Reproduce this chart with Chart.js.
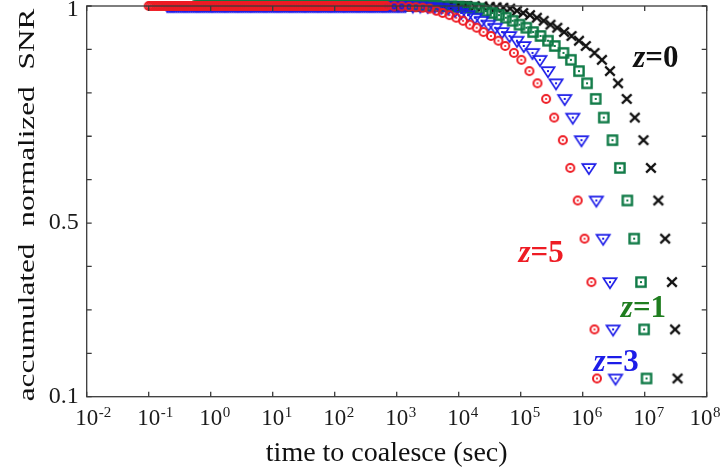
<!DOCTYPE html>
<html>
<head>
<meta charset="utf-8">
<script src="https://cdn.jsdelivr.net/npm/chart.js@4.4.1/dist/chart.umd.min.js"></script>
<style>
  html, body { margin: 0; padding: 0; background: #fff; }
</style>
</head>
<body>
<canvas id="snr-chart" width="722" height="474"></canvas>
<script>
// accumulated normalized SNR, shared by all four redshifts
const snrLevels = [
  1, 1, 1, 1, 1, 1, 1, 1, 1, 1,
  1, 1, 1, 1, 1, 1, 1, 1, 1, 1,
  1, 1, 1, 1, 1, 1, 1, 1, 1, 1,
  1, 1, 1, 1, 1, 1, 1, 1, 1, 1,
  1, 1, 1, 1, 1, 1, 1, 1, 1, 1,
  1, 1, 1, 1, 1, 1, 1, 1, 1, 1,
  1, 1, 1, 1, 1, 1, 1, 1, 1, 1,
  1, 1, 1, 1, 1, 1, 1, 1, 1, 1,
  1, 1, 1, 1, 1, 1, 1, 1, 1, 1,
  1, 1, 1, 1, 1, 1, 1, 1, 1, 1,
  1, 1, 1, 1, 1, 1, 1, 1, 1, 1,
  1, 1, 1, 1, 1, 1, 1, 1, 1, 1,
  1, 1, 1, 1, 1, 1, 1, 1, 1,
  0.999, 0.999, 0.998, 0.997, 0.996,
  0.994, 0.989, 0.984, 0.979, 0.973, 0.966, 0.957, 0.950, 0.940, 0.931,
  0.920, 0.908, 0.892, 0.876, 0.850, 0.822, 0.786, 0.743, 0.691, 0.627,
  0.552, 0.464, 0.364, 0.255, 0.142
];

// log10 of time to coalesce (sec), one list per redshift
const logTz0 = [
  0.30, 0.33, 0.36, 0.39, 0.42, 0.45, 0.48, 0.51, 0.54, 0.57,
  0.60, 0.63, 0.66, 0.69, 0.72, 0.75, 0.78, 0.81, 0.84, 0.87,
  0.90, 0.93, 0.96, 0.99, 1.02, 1.05, 1.08, 1.11, 1.14, 1.17,
  1.20, 1.23, 1.26, 1.29, 1.32, 1.35, 1.38, 1.41, 1.44, 1.47,
  1.50, 1.53, 1.56, 1.59, 1.62, 1.65, 1.68, 1.71, 1.74, 1.77,
  1.80, 1.83, 1.86, 1.89, 1.92, 1.95, 1.98, 2.01, 2.04, 2.07,
  2.10, 2.13, 2.16, 2.19, 2.22, 2.25, 2.28, 2.31, 2.34, 2.37,
  2.40, 2.43, 2.46, 2.49, 2.52, 2.55, 2.58, 2.61, 2.64, 2.67,
  2.70, 2.73, 2.76, 2.79, 2.82, 2.85, 2.88, 2.91, 2.94, 2.97,
  3.00, 3.03, 3.06, 3.09, 3.12, 3.15, 3.18, 3.21, 3.24, 3.27,
  3.30, 3.33, 3.36, 3.39, 3.42, 3.45, 3.48, 3.51, 3.54, 3.57,
  3.60, 3.63, 3.66, 3.69, 3.72, 3.75, 3.78, 3.81, 3.84, 3.87,
  3.90, 3.93, 3.96, 3.99, 4.02, 4.05, 4.08, 4.11, 4.14,
  4.26, 4.38, 4.50, 4.61, 4.72,
  4.83, 4.94, 5.04, 5.15, 5.26, 5.37, 5.48, 5.59, 5.70, 5.82,
  5.94, 6.05, 6.19, 6.31, 6.44, 6.57, 6.71, 6.84, 6.98, 7.10,
  7.22, 7.33, 7.44, 7.49, 7.53
];
const logTz1 = [
  -0.20, -0.17, -0.14, -0.11, -0.08, -0.05, -0.02, 0.01, 0.04, 0.07,
  0.10, 0.13, 0.16, 0.19, 0.22, 0.25, 0.28, 0.31, 0.34, 0.37,
  0.40, 0.43, 0.46, 0.49, 0.52, 0.55, 0.58, 0.61, 0.64, 0.67,
  0.70, 0.73, 0.76, 0.79, 0.82, 0.85, 0.88, 0.91, 0.94, 0.97,
  1.00, 1.03, 1.06, 1.09, 1.12, 1.15, 1.18, 1.21, 1.24, 1.27,
  1.30, 1.33, 1.36, 1.39, 1.42, 1.45, 1.48, 1.51, 1.54, 1.57,
  1.60, 1.63, 1.66, 1.69, 1.72, 1.75, 1.78, 1.81, 1.84, 1.87,
  1.90, 1.93, 1.96, 1.99, 2.02, 2.05, 2.08, 2.11, 2.14, 2.17,
  2.20, 2.23, 2.26, 2.29, 2.32, 2.35, 2.38, 2.41, 2.44, 2.47,
  2.50, 2.53, 2.56, 2.59, 2.62, 2.65, 2.68, 2.71, 2.74, 2.77,
  2.80, 2.83, 2.86, 2.89, 2.92, 2.95, 2.98, 3.01, 3.04, 3.07,
  3.10, 3.13, 3.16, 3.19, 3.22, 3.25, 3.28, 3.31, 3.34, 3.37,
  3.40, 3.43, 3.46, 3.49, 3.52, 3.55, 3.58, 3.61, 3.64,
  3.76, 3.88, 4.00, 4.11, 4.22,
  4.33, 4.44, 4.54, 4.65, 4.76, 4.87, 4.98, 5.09, 5.20, 5.32,
  5.44, 5.55, 5.69, 5.81, 5.94, 6.07, 6.21, 6.34, 6.48, 6.60,
  6.72, 6.83, 6.94, 6.99, 7.03
];
const logTz3 = [
  -0.70, -0.67, -0.64, -0.61, -0.58, -0.55, -0.52, -0.49, -0.46, -0.43,
  -0.40, -0.37, -0.34, -0.31, -0.28, -0.25, -0.22, -0.19, -0.16, -0.13,
  -0.10, -0.07, -0.04, -0.01, 0.02, 0.05, 0.08, 0.11, 0.14, 0.17,
  0.20, 0.23, 0.26, 0.29, 0.32, 0.35, 0.38, 0.41, 0.44, 0.47,
  0.50, 0.53, 0.56, 0.59, 0.62, 0.65, 0.68, 0.71, 0.74, 0.77,
  0.80, 0.83, 0.86, 0.89, 0.92, 0.95, 0.98, 1.01, 1.04, 1.07,
  1.10, 1.13, 1.16, 1.19, 1.22, 1.25, 1.28, 1.31, 1.34, 1.37,
  1.40, 1.43, 1.46, 1.49, 1.52, 1.55, 1.58, 1.61, 1.64, 1.67,
  1.70, 1.73, 1.76, 1.79, 1.82, 1.85, 1.88, 1.91, 1.94, 1.97,
  2.00, 2.03, 2.06, 2.09, 2.12, 2.15, 2.18, 2.21, 2.24, 2.27,
  2.30, 2.33, 2.36, 2.39, 2.42, 2.45, 2.48, 2.51, 2.54, 2.57,
  2.60, 2.63, 2.66, 2.69, 2.72, 2.75, 2.78, 2.81, 2.84, 2.87,
  2.90, 2.93, 2.96, 2.99, 3.02, 3.05, 3.08, 3.11, 3.14,
  3.26, 3.38, 3.50, 3.61, 3.72,
  3.83, 3.94, 4.04, 4.15, 4.26, 4.37, 4.48, 4.59, 4.70, 4.82,
  4.94, 5.05, 5.19, 5.31, 5.44, 5.57, 5.71, 5.84, 5.98, 6.10,
  6.22, 6.33, 6.44, 6.49, 6.53
];
const logTz5 = [
  -1.00, -0.97, -0.94, -0.91, -0.88, -0.85, -0.82, -0.79, -0.76, -0.73,
  -0.70, -0.67, -0.64, -0.61, -0.58, -0.55, -0.52, -0.49, -0.46, -0.43,
  -0.40, -0.37, -0.34, -0.31, -0.28, -0.25, -0.22, -0.19, -0.16, -0.13,
  -0.10, -0.07, -0.04, -0.01, 0.02, 0.05, 0.08, 0.11, 0.14, 0.17,
  0.20, 0.23, 0.26, 0.29, 0.32, 0.35, 0.38, 0.41, 0.44, 0.47,
  0.50, 0.53, 0.56, 0.59, 0.62, 0.65, 0.68, 0.71, 0.74, 0.77,
  0.80, 0.83, 0.86, 0.89, 0.92, 0.95, 0.98, 1.01, 1.04, 1.07,
  1.10, 1.13, 1.16, 1.19, 1.22, 1.25, 1.28, 1.31, 1.34, 1.37,
  1.40, 1.43, 1.46, 1.49, 1.52, 1.55, 1.58, 1.61, 1.64, 1.67,
  1.70, 1.73, 1.76, 1.79, 1.82, 1.85, 1.88, 1.91, 1.94, 1.97,
  2.00, 2.03, 2.06, 2.09, 2.12, 2.15, 2.18, 2.21, 2.24, 2.27,
  2.30, 2.33, 2.36, 2.39, 2.42, 2.45, 2.48, 2.51, 2.54, 2.57,
  2.60, 2.63, 2.66, 2.69, 2.72, 2.75, 2.78, 2.81, 2.84,
  2.96, 3.08, 3.20, 3.31, 3.42,
  3.53, 3.64, 3.74, 3.85, 3.96, 4.07, 4.18, 4.29, 4.40, 4.52,
  4.64, 4.75, 4.89, 5.01, 5.14, 5.27, 5.41, 5.54, 5.68, 5.80,
  5.92, 6.03, 6.14, 6.19, 6.23
];

const seriesLabels = ['z=0', 'z=1', 'z=3', 'z=5'];
// where each redshift label sits, in data units
const labelLogT = [7.18, 6.98, 6.54, 5.33];
const labelSnr = [0.885, 0.310, 0.184, 0.436];

const xExponents = [-2, -1, 0, 1, 2, 3, 4, 5, 6, 7, 8];
const yTickValues = [0.1, 0.2, 0.3, 0.4, 0.5, 0.6, 0.7, 0.8, 0.9, 1.0];
const yLabelValues = [0.1, 0.5, 1];
const yLabelTexts = ['0.1', '0.5', '1'];

const xTitle = 'time to coalesce (sec)';
const yTitle = 'accumulated normalized SNR';

const RED = '#ee1c24';
const BLUE = '#1c1ce8';
const GREEN = '#0f7a46';
const GREEN_TEXT = '#1f7d1f';
const BLACK = '#111111';
const SERIF = '"Liberation Serif", "Times New Roman", serif';

function makeMarker(w, h, draw) {
    const c = document.createElement('canvas');
    c.width = w;
    c.height = h;
    draw(c.getContext('2d'), w / 2, h / 2);
    return c;
}

const circleDot = makeMarker(14, 14, function (g, cx, cy) {
    g.strokeStyle = RED;
    g.fillStyle = RED;
    g.lineWidth = 2;
    g.beginPath();
    g.arc(cx, cy, 4, 0, Math.PI * 2);
    g.stroke();
    g.beginPath();
    g.arc(cx, cy, 1.1, 0, Math.PI * 2);
    g.fill();
});

const triangleDot = makeMarker(18, 18, function (g, cx, cy) {
    g.strokeStyle = BLUE;
    g.fillStyle = BLUE;
    g.lineWidth = 1.7;
    g.beginPath();
    g.moveTo(cx - 6.6, cy - 3.8);
    g.lineTo(cx + 6.6, cy - 3.8);
    g.lineTo(cx, cy + 6.2);
    g.closePath();
    g.stroke();
    g.fillRect(cx - 1, cy - 1, 2, 2);
});

const squareDot = makeMarker(16, 16, function (g, cx, cy) {
    g.strokeStyle = GREEN;
    g.fillStyle = GREEN;
    g.lineWidth = 2.4;
    g.strokeRect(cx - 4.6, cy - 4.6, 9.2, 9.2);
    g.fillRect(cx - 1, cy - 1, 2, 2);
});

const cross = makeMarker(14, 14, function (g, cx, cy) {
    g.strokeStyle = BLACK;
    g.lineWidth = 2.3;
    g.beginPath();
    g.moveTo(cx - 4.8, cy - 4.6);
    g.lineTo(cx + 4.8, cy + 4.6);
    g.moveTo(cx + 4.8, cy - 4.6);
    g.lineTo(cx - 4.8, cy + 4.6);
    g.stroke();
});

function toPoints(logT) {
    return logT.map((lt, i) => ({ x: Math.pow(10, lt), y: snrLevels[i] }));
}

// box with inward ticks, tick labels, axis titles and redshift labels
const framePlugin = {
    id: 'frame',
    afterDatasetsDraw(chart) {
        const ctx = chart.ctx;
        const a = chart.chartArea;
        const xs = chart.scales.x;
        const ys = chart.scales.y;
        ctx.save();

        ctx.strokeStyle = '#3a3a3a';
        ctx.lineWidth = 1.3;
        ctx.strokeRect(a.left, a.top, a.right - a.left, a.bottom - a.top);
        ctx.beginPath();
        xExponents.forEach(e => {
            const px = xs.getPixelForValue(Math.pow(10, e));
            ctx.moveTo(px, a.bottom);
            ctx.lineTo(px, a.bottom - 5);
            ctx.moveTo(px, a.top);
            ctx.lineTo(px, a.top + 5);
        });
        yTickValues.forEach(v => {
            const py = ys.getPixelForValue(v);
            ctx.moveTo(a.left, py);
            ctx.lineTo(a.left + 5, py);
            ctx.moveTo(a.right, py);
            ctx.lineTo(a.right - 5, py);
        });
        ctx.stroke();

        ctx.fillStyle = '#1a1a1a';
        ctx.textBaseline = 'alphabetic';
        xExponents.forEach(e => {
            let px = xs.getPixelForValue(Math.pow(10, e));
            ctx.font = '23px ' + SERIF;
            const w = ctx.measureText('10').width;
            ctx.font = '15px ' + SERIF;
            const we = ctx.measureText(String(e)).width;
            px = Math.min(px, chart.width - 2 - we - w / 2);
            ctx.font = '23px ' + SERIF;
            ctx.textAlign = 'center';
            ctx.fillText('10', px, a.bottom + 28);
            ctx.font = '15px ' + SERIF;
            ctx.textAlign = 'left';
            ctx.fillText(String(e), px + w / 2 + 0.5, a.bottom + 20);
        });

        ctx.font = '24px ' + SERIF;
        ctx.textAlign = 'right';
        ctx.textBaseline = 'middle';
        yLabelValues.forEach((v, i) => {
            const py = Math.max(ys.getPixelForValue(v), 10);
            ctx.fillText(yLabelTexts[i], a.left - 8, py);
        });

        ctx.fillStyle = BLACK;
        ctx.textAlign = 'center';
        ctx.textBaseline = 'alphabetic';
        ctx.font = '28px ' + SERIF;
        ctx.fillText(xTitle, (a.left + a.right) / 2 - 10, 461);

        ctx.save();
        ctx.translate(33.5, 205);
        ctx.rotate(-Math.PI / 2);
        ctx.scale(1.3, 1);
        ctx.font = '24px ' + SERIF;
        if ('wordSpacing' in ctx) ctx.wordSpacing = '7px';
        ctx.fillText(yTitle, 0, 0);
        ctx.restore();

        const labelColors = [BLACK, GREEN_TEXT, BLUE, RED];
        seriesLabels.forEach((label, i) => {
            const cx = xs.getPixelForValue(Math.pow(10, labelLogT[i]));
            const cy = ys.getPixelForValue(labelSnr[i]);
            const head = label.charAt(0);
            const tail = label.slice(1);
            ctx.fillStyle = labelColors[i];
            ctx.textAlign = 'left';
            ctx.font = 'italic bold 31px ' + SERIF;
            const w1 = ctx.measureText(head).width;
            ctx.font = 'bold 31px ' + SERIF;
            const w2 = ctx.measureText(tail).width;
            const x0 = cx - (w1 + w2) / 2;
            ctx.font = 'italic bold 31px ' + SERIF;
            ctx.fillText(head, x0, cy + 11);
            ctx.font = 'bold 31px ' + SERIF;
            ctx.fillText(tail, x0 + w1, cy + 11);
        });

        ctx.restore();
    }
};

const ctx = document.getElementById('snr-chart').getContext('2d');

const snrChart = new Chart(ctx, {
    type: 'scatter',
    data: {
        datasets: [
            { label: seriesLabels[0], data: toPoints(logTz0), pointStyle: cross, order: 3 },
            { label: seriesLabels[1], data: toPoints(logTz1), pointStyle: squareDot, order: 2 },
            { label: seriesLabels[2], data: toPoints(logTz3), pointStyle: triangleDot, order: 1 },
            { label: seriesLabels[3], data: toPoints(logTz5), pointStyle: circleDot, order: 0 }
        ]
    },
    options: {
        responsive: false,
        animation: false,
        layout: {
            padding: { left: 86.7, right: 15.3, top: 4.3, bottom: 77.3 }
        },
        datasets: {
            scatter: { clip: false, pointRadius: 5, showLine: false }
        },
        scales: {
            x: { type: 'logarithmic', min: 0.01, max: 1e8, display: false },
            y: { type: 'linear', min: 0.1, max: 1, display: false }
        },
        plugins: {
            legend: { display: false },
            tooltip: { enabled: false }
        }
    },
    plugins: [framePlugin]
});
</script>
</body>
</html>
